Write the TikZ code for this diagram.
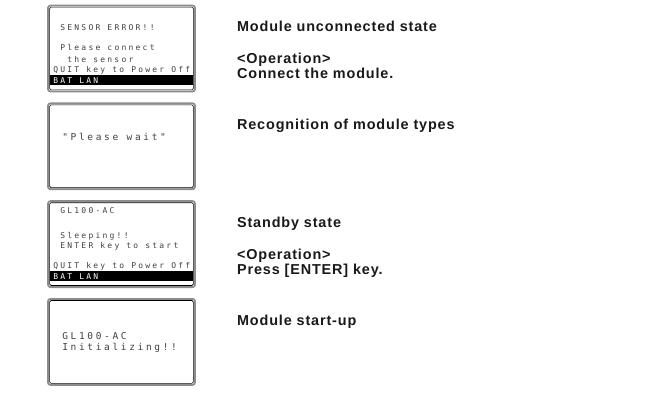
\documentclass[tikz,border=0pt]{standalone}
\usepackage{fontspec}
\usetikzlibrary{positioning}
\newfontfamily\lcdfont{DejaVu Sans Mono}[LetterSpace=28]
\newfontfamily\lcdbigfont{DejaVu Sans Mono}[LetterSpace=28]
\newfontfamily\lblfont{Liberation Sans}[LetterSpace=6]

\begin{document}
\begin{tikzpicture}[x=1pt,y=1pt,
  screen/.style={draw=black!45, line width=1.8pt, rounded corners=2.5pt,
    minimum width=147pt, minimum height=86pt, inner sep=0pt},
  rim/.style={draw=black, line width=0.6pt, rounded corners=1.5pt},
  lcd/.style={anchor=base west, inner sep=0pt, text=black!75,
    font=\lcdfont\fontsize{8}{9}\selectfont},
  lcdbig/.style={anchor=base west, inner sep=0pt, text=black!75,
    font=\lcdbigfont\fontsize{9.5}{10}\selectfont},
  lbl/.style={anchor=base west, inner sep=0pt, text=black!90,
    font=\lblfont\bfseries\fontsize{14.4}{16}\selectfont}]

\useasboundingbox (0,0) rectangle (651,-394);

% screens
\node[screen] (scr1) at (121.5,-48.5) {};
\node[screen, below=10pt of scr1] (scr2) {};
\node[screen, below=10pt of scr2] (scr3) {};
\node[screen, below=10pt of scr3] (scr4) {};

\foreach \s in {1,...,4}
  \draw[rim] ([shift={(2.5pt,2.5pt)}]scr\s.south west) rectangle ([shift={(-2.5pt,-2.5pt)}]scr\s.north east);

\fill[black] ([shift={(2.5pt,-70.5pt)}]scr1.north west) rectangle ([shift={(-2.5pt,-80.5pt)}]scr1.north east);
\fill[black] ([shift={(2.5pt,-70.5pt)}]scr3.north west) rectangle ([shift={(-2.5pt,-80.5pt)}]scr3.north east);

% screen texts
\path (scr1.north west) +(13,-26) node[lcd] (err) {SENSOR ERROR!!};
\path (scr1.north west) +(13,-46) node[lcd] (conn) {Please connect};
\path (scr1.north west) +(20,-58) node[lcd] (sens) {the sensor};
\path (scr1.north west) +(6,-68) node[lcd] (quit1) {QUIT key to Power Off};
\path (scr1.north west) +(6,-79) node[lcd, text=white] (bat1) {BAT LAN};

\path (scr2.north west) +(15,-38.5) node[lcdbig] (wait) {"Please wait"};

\path (scr3.north west) +(13,-13) node[lcd] (model3) {GL100-AC};
\path (scr3.north west) +(13,-38) node[lcd] (sleep) {Sleeping!!};
\path (scr3.north west) +(13,-48) node[lcd] (enter) {ENTER key to start};
\path (scr3.north west) +(6,-68) node[lcd] (quit3) {QUIT key to Power Off};
\path (scr3.north west) +(6,-79) node[lcd, text=white] (bat3) {BAT LAN};

\path (scr4.north west) +(15,-41.5) node[lcdbig] (model4) {GL100-AC};
\path (scr4.north west) +(15,-52.5) node[lcdbig] (init) {Initializing!!};

% descriptions
\path (scr1.north east) +(41,-27) node[lbl] (st1) {Module unconnected state};
\path (st1.base west) +(0,-32) node[lbl] (op1) {<Operation>};
\path (op1.base west) +(0,-15) node[lbl] (do1) {Connect the module.};

\path (scr2.north east) +(41,-27) node[lbl] (st2) {Recognition of module types};

\path (scr3.north east) +(41,-27) node[lbl] (st3) {Standby state};
\path (st3.base west) +(0,-32) node[lbl] (op3) {<Operation>};
\path (op3.base west) +(0,-15) node[lbl] (do3) {Press [ENTER] key.};

\path (scr4.north east) +(41,-27) node[lbl] (st4) {Module start-up};

\end{tikzpicture}
\end{document}
